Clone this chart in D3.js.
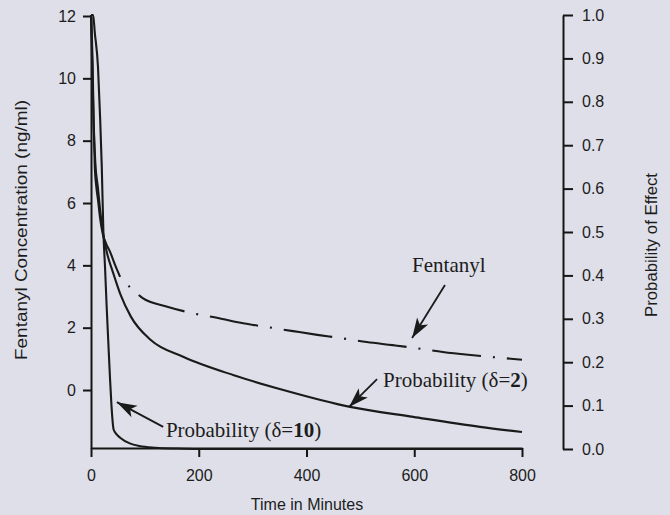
<!DOCTYPE html>
<html>
<head>
<meta charset="utf-8">
<script src="https://cdn.jsdelivr.net/npm/d3@7"></script>
<style>
  body { margin: 0; background: #dedfe9; }
  svg { display: block; }
  .axis path, .axis line { stroke: #151515; stroke-width: 2; }
  .axis text { font-family: "Liberation Sans", Arial, sans-serif; font-size: 16px; fill: #1c1c1c; }
</style>
</head>
<body>
<div id="chart"></div>
<script>
// time (min) and fentanyl concentration (ng/ml)
const fentTime = [0, 3, 5, 7, 10, 13, 17, 22, 28, 35, 45, 54, 76, 96, 140, 187, 236, 280, 327, 375, 420, 462, 512, 560, 601, 653, 700, 744, 800];
const fentConc = [12.0, 10.5, 8.5, 7.2, 6.5, 6.1, 5.5, 5.0, 4.7, 4.45, 4.0, 3.63, 3.24, 2.95, 2.68, 2.47, 2.31, 2.15, 2.02, 1.89, 1.77, 1.67, 1.54, 1.44, 1.35, 1.22, 1.13, 1.06, 0.97];
const fentSolidUntil = 54; // solid part, then dash-dot

// probability of effect, delta = 2
const prob2Time = [0, 2, 5, 8, 13, 17, 22, 30, 40, 55, 74, 111, 172, 265, 357, 481, 598, 722, 800];
const prob2 = [1.0, 0.9, 0.75, 0.66, 0.6, 0.55, 0.5, 0.45, 0.41, 0.355, 0.305, 0.251, 0.212, 0.170, 0.136, 0.097, 0.074, 0.051, 0.039];

// probability of effect, delta = 10
const prob10Time = [0, 4, 7, 13, 17, 20, 23, 26, 29, 32, 35, 38, 42, 48, 54, 72, 90, 120, 160, 200, 400, 800];
const prob10 = [1.0, 1.0, 0.96, 0.88, 0.76, 0.65, 0.5, 0.42, 0.33, 0.25, 0.17, 0.10, 0.045, 0.033, 0.026, 0.013, 0.007, 0.003, 0.001, 0, 0, 0];

const xTicks = [0, 200, 400, 600, 800];
const leftTicks = [0, 2, 4, 6, 8, 10, 12];
const rightTicks = [0, 0.1, 0.2, 0.3, 0.4, 0.5, 0.6, 0.7, 0.8, 0.9, 1.0];

const W = 670, H = 515;
const svg = d3.select('#chart').append('svg').attr('width', W).attr('height', H);
svg.append('rect').attr('width', W).attr('height', H).attr('fill', '#dedfe9');

const x = d3.scaleLinear().domain([0, 800]).range([91, 522]);
const yL = d3.scaleLinear().domain([-1.86, 12]).range([448, 16]);
const yR = d3.scaleLinear().domain([0, 1]).range([449, 15]);

// axes
svg.append('g').attr('class', 'axis')
  .attr('transform', 'translate(0,448)')
  .call(d3.axisBottom(x).tickValues(xTicks).tickSize(9).tickSizeOuter(0).tickPadding(13));

svg.append('g').attr('class', 'axis')
  .attr('transform', `translate(${x(0)},0)`)
  .call(d3.axisLeft(yL).tickValues(leftTicks).tickSize(8).tickSizeOuter(0).tickPadding(7));

svg.append('g').attr('class', 'axis')
  .attr('transform', 'translate(563,0)')
  .call(d3.axisRight(yR).tickValues(rightTicks).tickFormat(d3.format('.1f'))
    .tickSize(10).tickSizeOuter(0).tickPadding(9));

// axis titles
const sans = '"Liberation Sans", Arial, sans-serif';
svg.append('text')
  .attr('x', 307).attr('y', 510)
  .attr('text-anchor', 'middle')
  .style('font-family', sans).style('font-size', '16px').style('fill', '#1c1c1c')
  .text('Time in Minutes');

svg.append('text')
  .attr('transform', 'translate(21,230) rotate(-90)')
  .attr('text-anchor', 'middle').attr('dominant-baseline', 'central')
  .attr('textLength', 260).attr('lengthAdjust', 'spacingAndGlyphs')
  .style('font-family', sans).style('font-size', '16px').style('fill', '#1c1c1c')
  .text('Fentanyl Concentration (ng/ml)');

svg.append('text')
  .attr('transform', 'translate(651,245) rotate(-90)')
  .attr('text-anchor', 'middle').attr('dominant-baseline', 'central')
  .attr('textLength', 144).attr('lengthAdjust', 'spacingAndGlyphs')
  .style('font-family', sans).style('font-size', '16px').style('fill', '#1c1c1c')
  .text('Probability of Effect');

// curves
const lineL = d3.line().x((d) => x(d[0])).y((d) => yL(d[1])).curve(d3.curveMonotoneX);
const lineR = d3.line().x((d) => x(d[0])).y((d) => yR(d[1])).curve(d3.curveMonotoneX);

const fent = d3.zip(fentTime, fentConc);
const fentSolid = fent.filter((d) => d[0] <= fentSolidUntil);
const fentDash = fent.filter((d) => d[0] >= fentSolidUntil);

const curveStyle = (sel) => sel.attr('fill', 'none').attr('stroke', '#1a1a1a').attr('stroke-width', 2.1);

svg.append('path').datum(fentSolid).attr('d', lineL).call(curveStyle);
svg.append('path').datum(fentDash).attr('d', lineL).call(curveStyle)
  .attr('stroke-dasharray', '49,12,2,12')
  .attr('stroke-dashoffset', 49);

svg.append('path').datum(d3.zip(prob2Time, prob2)).attr('d', lineR).call(curveStyle);
svg.append('path').datum(d3.zip(prob10Time, prob10)).attr('d', lineR).call(curveStyle);

// annotations
const defs = svg.append('defs');
defs.append('marker')
  .attr('id', 'head')
  .attr('viewBox', '-21 -7 22 14')
  .attr('refX', 0).attr('refY', 0)
  .attr('markerWidth', 22).attr('markerHeight', 14)
  .attr('markerUnits', 'userSpaceOnUse')
  .attr('orient', 'auto')
  .append('path')
  .attr('d', 'M0,0L-20,-6.5L-15,0L-20,6.5Z')
  .attr('fill', '#1a1a1a');

const serif = '"Liberation Serif", "Times New Roman", serif';
const arrows = [
  { x1: x(657), y1: yL(3.37), x2: x(596), y2: yL(1.67) },
  { x1: x(531), y1: yR(0.161), x2: x(479), y2: yR(0.097) },
  { x1: x(134), y1: yR(0.051), x2: x(48), y2: yR(0.108) },
];
arrows.forEach((a) => {
  svg.append('line')
    .attr('x1', a.x1).attr('y1', a.y1).attr('x2', a.x2).attr('y2', a.y2)
    .attr('stroke', '#1a1a1a').attr('stroke-width', 1.8)
    .attr('marker-end', 'url(#head)');
});

function label(px, py, parts) {
  const t = svg.append('text').attr('x', px).attr('y', py)
    .style('font-family', serif).style('font-size', '21px').style('fill', '#1c1c1c');
  parts.forEach((p) => {
    t.append('tspan').style('font-weight', p.bold ? 'bold' : 'normal').text(p.s);
  });
}

label(x(596), yL(3.79), [{ s: 'Fentanyl' }]);
label(x(542), yR(0.143), [{ s: 'Probability (δ=' }, { s: '2', bold: true }, { s: ')' }]);
label(x(139), yR(0.028), [{ s: 'Probability (δ=' }, { s: '10', bold: true }, { s: ')' }]);
</script>
</body>
</html>
